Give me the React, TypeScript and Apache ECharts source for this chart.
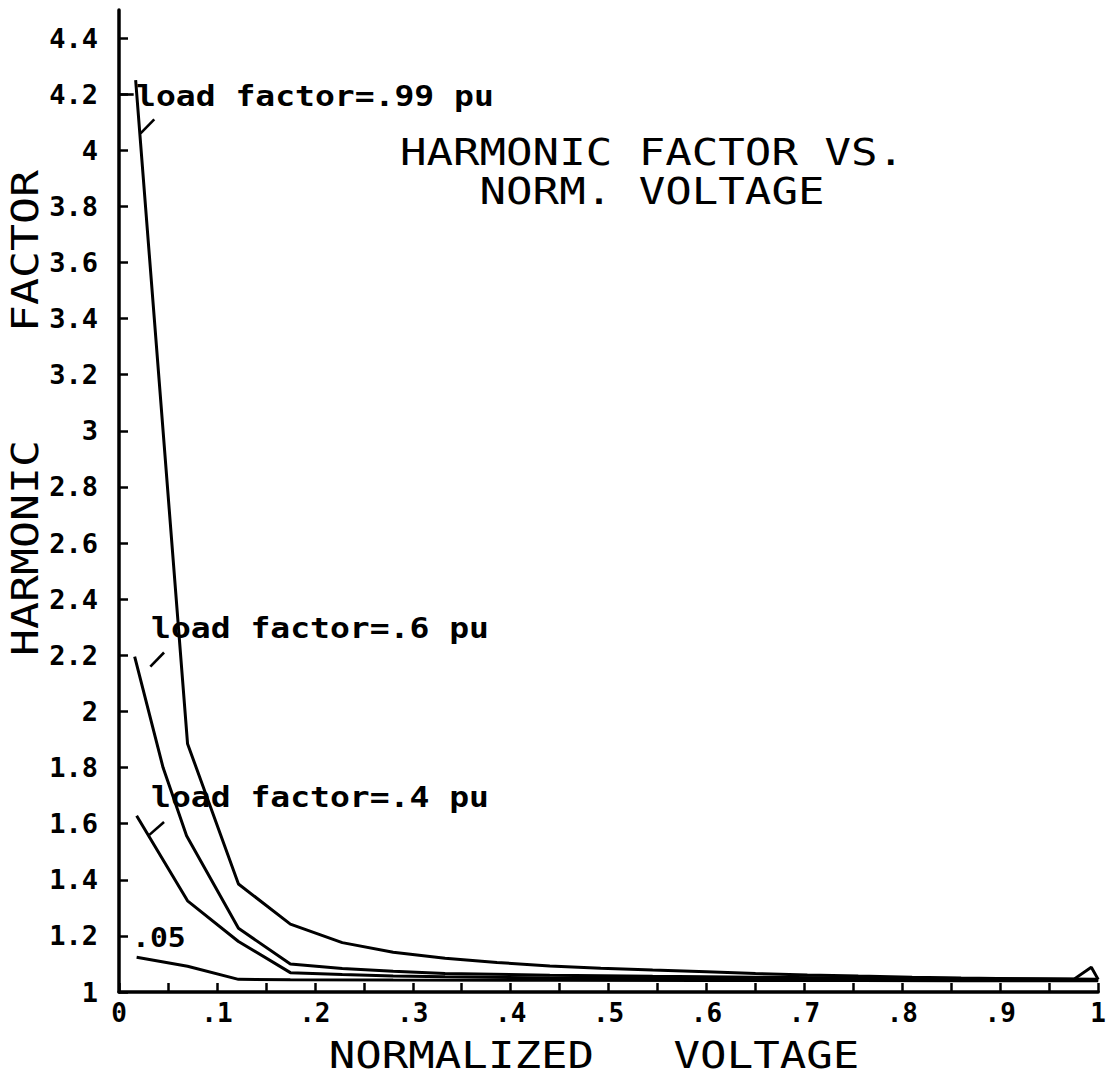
import React, { useEffect, useRef } from 'react';
import * as echarts from 'echarts';

// ---- data ----
const xTickValues = [0, 0.1, 0.2, 0.3, 0.4, 0.5, 0.6, 0.7, 0.8, 0.9, 1];
const xTickLabels = ['0', '.1', '.2', '.3', '.4', '.5', '.6', '.7', '.8', '.9', '1'];
const xMinorTickValues = [0, 0.05, 0.1, 0.15, 0.2, 0.25, 0.3, 0.35, 0.4, 0.45, 0.5, 0.55, 0.6, 0.65, 0.7, 0.75, 0.8, 0.85, 0.9, 0.95, 1];
const yTickValues = [1, 1.2, 1.4, 1.6, 1.8, 2, 2.2, 2.4, 2.6, 2.8, 3, 3.2, 3.4, 3.6, 3.8, 4, 4.2, 4.4];
const yTickLabels = ['1', '1.2', '1.4', '1.6', '1.8', '2', '2.2', '2.4', '2.6', '2.8', '3', '3.2', '3.4', '3.6', '3.8', '4', '4.2', '4.4'];

const curveLoad99: [number, number][] = [
  [0.017, 4.25], [0.07, 1.885], [0.122, 1.385], [0.175, 1.242], [0.228, 1.176], [0.28, 1.142],
  [0.333, 1.12], [0.386, 1.105], [0.44, 1.093], [0.492, 1.085], [0.545, 1.078], [0.6, 1.072],
  [0.65, 1.066], [0.703, 1.061], [0.755, 1.057], [0.81, 1.053], [0.86, 1.05], [0.915, 1.047],
  [0.975, 1.045], [0.993, 1.088], [1.0, 1.045],
];
const curveLoad60: [number, number][] = [
  [0.016, 2.195], [0.045, 1.8], [0.069, 1.557], [0.122, 1.227], [0.175, 1.1], [0.228, 1.084],
  [0.28, 1.074], [0.333, 1.066], [0.44, 1.06], [0.545, 1.056], [0.65, 1.053], [0.755, 1.05],
  [0.86, 1.048], [0.97, 1.046], [1.0, 1.045],
];
const curveLoad40: [number, number][] = [
  [0.018, 1.628], [0.07, 1.325], [0.122, 1.18], [0.175, 1.069], [0.228, 1.062], [0.28, 1.057],
  [0.333, 1.054], [0.44, 1.05], [0.545, 1.048], [0.65, 1.046], [0.755, 1.045], [0.86, 1.044],
  [0.97, 1.043], [1.0, 1.043],
];
const curveLoad05: [number, number][] = [
  [0.018, 1.124], [0.07, 1.092], [0.122, 1.045], [0.175, 1.044], [0.28, 1.043], [0.44, 1.042],
  [0.6, 1.041], [0.755, 1.041], [0.86, 1.04], [1.0, 1.04],
];

// leader lines (data coordinates) from curve toward its label
const leader99: [number, number][] = [[0.022, 4.06], [0.036, 4.11]];
const tick42Extension: [number, number][] = [[0, 4.2], [0.015, 4.2]];
const leader60: [number, number][] = [[0.032, 2.16], [0.046, 2.21]];
const leader40: [number, number][] = [[0.031, 1.56], [0.046, 1.606]];

const FONT = "'DejaVu Sans Mono', 'Liberation Mono', monospace";

function lookup(values: number[], labels: string[], v: number): string {
  const i = values.findIndex((t) => Math.abs(t - v) < 1e-6);
  return i >= 0 ? labels[i] : '';
}

function leaders(...segs: [number, number][][]) {
  return {
    silent: true,
    symbol: ['none', 'none'],
    label: { show: false },
    lineStyle: { color: '#000', width: 2.6, type: 'solid' },
    data: segs.map((pts) => [{ coord: pts[0] }, { coord: pts[1] }]),
  };
}

function lineSeries(name: string, data: [number, number][], ml?: any) {
  return {
    name,
    type: 'line',
    data,
    symbol: 'none',
    smooth: false,
    lineStyle: { color: '#000', width: 3 },
    z: 3,
    ...(ml ? { markLine: ml } : {}),
  };
}

function txt(text: string, x: number, y: number, font: string, scaleX: number, extra: any = {}) {
  return {
    type: 'text',
    x,
    y,
    scaleX,
    ...extra,
    style: { text, fill: '#000', font, align: extra.align || 'left', verticalAlign: 'middle' },
  };
}

export default function App() {
  const ref = useRef<HTMLDivElement>(null);
  useEffect(() => {
    document.body.style.margin = '0';
    const chart = echarts.init(ref.current!, null, { renderer: 'svg' });
    chart.setOption({
      animation: false,
      backgroundColor: '#fff',
      grid: { left: 119, right: 9, top: 10, bottom: 90 },
      xAxis: {
        type: 'value',
        min: 0,
        max: 1,
        interval: 0.1,
        axisLine: { show: true, lineStyle: { color: '#000', width: 3.5 } },
        axisTick: {
          show: true,
          inside: true,
          length: 9,
          customValues: xMinorTickValues,
          lineStyle: { color: '#000', width: 2.5 },
        },
        splitLine: { show: false },
        axisLabel: {
          customValues: xTickValues,
          formatter: (v: number) => lookup(xTickValues, xTickLabels, v),
          color: '#000',
          fontFamily: FONT,
          fontWeight: 'bold',
          fontSize: 26,
          margin: 8,
        },
      },
      yAxis: {
        type: 'value',
        min: 1,
        max: 4.5,
        interval: 0.2,
        axisLine: { show: true, lineStyle: { color: '#000', width: 3.5 } },
        axisTick: {
          show: true,
          inside: true,
          length: 9,
          customValues: yTickValues,
          lineStyle: { color: '#000', width: 2.5 },
        },
        splitLine: { show: false },
        axisLabel: {
          customValues: yTickValues,
          formatter: (v: number) => lookup(yTickValues, yTickLabels, v),
          color: '#000',
          fontFamily: FONT,
          fontWeight: 'bold',
          fontSize: 27,
          margin: 21,
        },
      },
      series: [
        lineSeries('load factor=.99 pu', curveLoad99, leaders(leader99, tick42Extension)),
        lineSeries('load factor=.6 pu', curveLoad60, leaders(leader60)),
        lineSeries('load factor=.4 pu', curveLoad40, leaders(leader40)),
        lineSeries('.05', curveLoad05),
      ],
      graphic: [
        txt('HARMONIC FACTOR VS.', 652, 152, `38px ${FONT}`, 1.16, { align: 'center' }),
        txt('NORM. VOLTAGE', 652, 191, `38px ${FONT}`, 1.16, { align: 'center' }),
        txt('NORMALIZED   VOLTAGE', 594, 1055, `38px ${FONT}`, 1.16, { align: 'center' }),
        txt('HARMONIC    FACTOR', 25, 413, `38px ${FONT}`, 1.18, { align: 'center', rotation: Math.PI / 2 }),
        txt('load factor=.99 pu', 136, 96, `bold 28px ${FONT}`, 1.18),
        txt('load factor=.6 pu', 151, 628, `bold 28px ${FONT}`, 1.18),
        txt('load factor=.4 pu', 151, 797, `bold 28px ${FONT}`, 1.18),
        txt('.05', 132, 938, `bold 27px ${FONT}`, 1.1),
      ],
    });
    return () => chart.dispose();
  }, []);
  return <div ref={ref} style={{ width: 1109, height: 1082 }} />;
}
